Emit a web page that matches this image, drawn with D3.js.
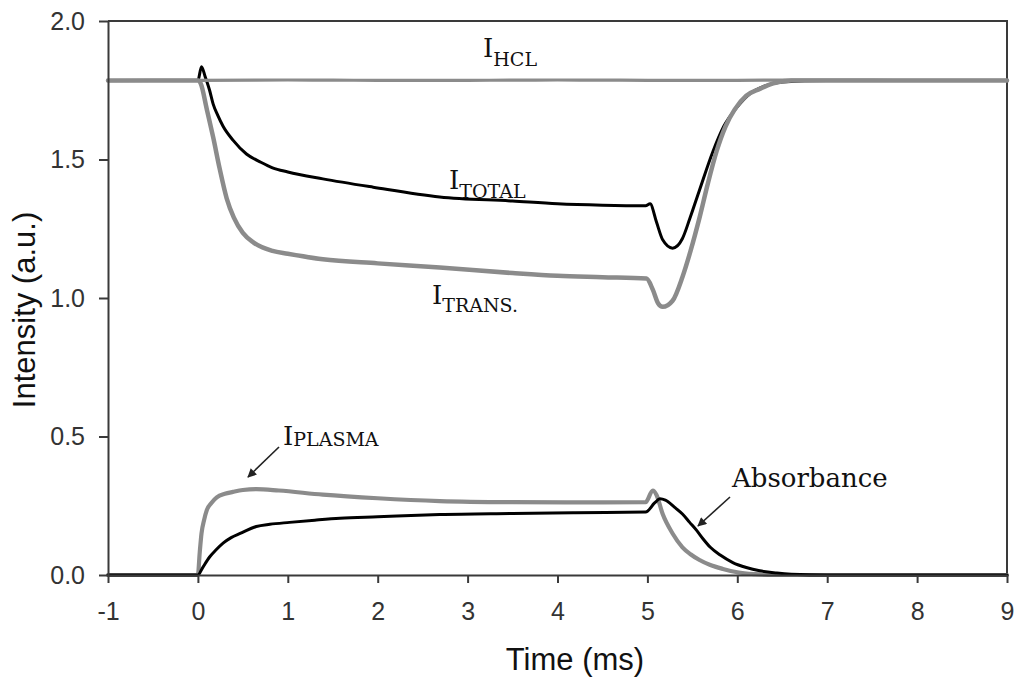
<!DOCTYPE html>
<html>
<head>
<meta charset="utf-8">
<script src="https://cdn.jsdelivr.net/npm/d3@7"></script>
<style>
  html, body { margin: 0; padding: 0; background: #fff; }
  svg { display: block; }
</style>
</head>
<body>
<svg id="chart" width="1018" height="682"></svg>
<script>
// Time axis (ms) and intensity axis (a.u.)
const xTicks = [-1, 0, 1, 2, 3, 4, 5, 6, 7, 8, 9];
const yTicks = [0.0, 0.5, 1.0, 1.5, 2.0];

// Hollow cathode lamp intensity
const hclTime   = [-1, 0, 1, 2, 3, 4, 5, 6, 7, 8, 9];
const hclValues = [1.785, 1.786, 1.787, 1.786, 1.786, 1.787, 1.786, 1.786, 1.787, 1.786, 1.786];

// Total intensity (black)
const totalTime   = [-1, 0, 0.04, 0.08, 0.13, 0.17, 0.22, 0.28, 0.39, 0.54, 0.7, 0.83, 1.0, 1.39, 1.95, 2.69, 3.5, 4.0, 4.5, 4.98, 5.03, 5.10, 5.17, 5.28, 5.39, 5.47, 5.58, 5.73, 5.85, 6.0, 6.15, 6.3, 6.5, 7, 8, 9];
const totalValues = [1.785, 1.785, 1.835, 1.80, 1.75, 1.70, 1.66, 1.62, 1.57, 1.52, 1.49, 1.47, 1.455, 1.43, 1.40, 1.365, 1.35, 1.34, 1.335, 1.333, 1.34, 1.275, 1.21, 1.18, 1.215, 1.285, 1.39, 1.53, 1.62, 1.69, 1.74, 1.765, 1.78, 1.785, 1.785, 1.785];

// Transmitted intensity (grey)
const transTime   = [-1, 0, 0.03, 0.1, 0.17, 0.24, 0.32, 0.4, 0.5, 0.62, 0.83, 1.0, 1.39, 2.0, 2.69, 3.5, 4.0, 4.5, 4.99, 5.06, 5.12, 5.17, 5.28, 5.39, 5.48, 5.58, 5.67, 5.77, 5.87, 5.97, 6.1, 6.25, 6.4, 6.6, 7, 8, 9];
const transValues = [1.785, 1.785, 1.775, 1.68, 1.58, 1.47, 1.36, 1.29, 1.235, 1.20, 1.17, 1.16, 1.14, 1.125, 1.11, 1.09, 1.08, 1.075, 1.07, 1.03, 0.98, 0.968, 0.99, 1.076, 1.17, 1.29, 1.41, 1.53, 1.62, 1.68, 1.73, 1.755, 1.775, 1.785, 1.785, 1.785, 1.785];

// Plasma emission intensity (grey)
const plasmaTime   = [-1, 0, 0.02, 0.04, 0.07, 0.1, 0.15, 0.21, 0.3, 0.39, 0.5, 0.65, 0.9, 1.39, 2.0, 2.69, 3.5, 4.5, 4.98, 5.06, 5.1, 5.17, 5.28, 5.39, 5.48, 5.58, 5.7, 5.84, 6.0, 6.2, 6.4, 7, 8, 9];
const plasmaValues = [0, 0, 0.08, 0.15, 0.20, 0.235, 0.26, 0.28, 0.293, 0.30, 0.307, 0.31, 0.305, 0.29, 0.277, 0.267, 0.263, 0.262, 0.263, 0.305, 0.29, 0.22, 0.15, 0.10, 0.075, 0.054, 0.036, 0.022, 0.01, 0.003, 0, 0, 0, 0];

// Absorbance (black)
const absTime   = [-1, 0, 0.05, 0.13, 0.2, 0.28, 0.37, 0.47, 0.65, 0.8, 1.02, 1.3, 1.58, 2.0, 2.69, 3.5, 4.2, 4.98, 5.08, 5.14, 5.2, 5.3, 5.39, 5.47, 5.55, 5.62, 5.7, 5.81, 5.95, 6.1, 6.25, 6.44, 6.6, 7, 8, 9];
const absValues = [0, 0, 0.025, 0.065, 0.09, 0.115, 0.135, 0.15, 0.175, 0.183, 0.19, 0.198, 0.205, 0.21, 0.218, 0.222, 0.225, 0.227, 0.26, 0.275, 0.27, 0.245, 0.22, 0.19, 0.16, 0.13, 0.10, 0.072, 0.045, 0.027, 0.015, 0.007, 0.003, 0, 0, 0];

const svg = d3.select("#chart");
const plot = { left: 108, right: 1007, top: 21, bottom: 575 };

const x = d3.scaleLinear().domain([-1, 9]).range([plot.left, plot.right]);
const y = d3.scaleLinear().domain([0, 2]).range([plot.bottom, plot.top]);

const grey = "#8b8b8b";
const axisColor = "#3a3a3a";

// Plot-area frame (top and right edges)
svg.append("path")
  .attr("d", `M${plot.left},${plot.top}H${plot.right}V${plot.bottom}`)
  .attr("fill", "none")
  .attr("stroke", axisColor)
  .attr("stroke-width", 2);

const line = d3.line()
  .x(d => x(d[0]))
  .y(d => y(d[1]))
  .curve(d3.curveMonotoneX);

const series = [
  { t: totalTime,  v: totalValues,  color: "#000", width: 3 },
  { t: hclTime,    v: hclValues,    color: grey,   width: 3.2 },
  { t: transTime,  v: transValues,  color: grey,   width: 4.5 },
  { t: plasmaTime, v: plasmaValues, color: grey,   width: 4.2 },
  { t: absTime,    v: absValues,    color: "#000", width: 3 }
];

svg.append("g").selectAll("path")
  .data(series)
  .join("path")
  .attr("d", s => line(d3.zip(s.t, s.v)))
  .attr("fill", "none")
  .attr("stroke", s => s.color)
  .attr("stroke-width", s => s.width)
  .attr("stroke-linejoin", "round")
  .attr("stroke-linecap", "round");

// Axes
const xAxis = svg.append("g")
  .attr("transform", `translate(0,${plot.bottom})`)
  .call(d3.axisBottom(x).tickValues(xTicks).tickFormat(d => String(d)).tickSize(8).tickPadding(19).tickSizeOuter(0));

const yAxis = svg.append("g")
  .attr("transform", `translate(${plot.left},0)`)
  .call(d3.axisLeft(y).tickValues(yTicks).tickFormat(d3.format(".1f")).tickSize(9).tickPadding(14).tickSizeOuter(0));

[xAxis, yAxis].forEach(g => {
  g.select(".domain").attr("stroke", axisColor).attr("stroke-width", 2);
  g.selectAll(".tick line").attr("stroke", axisColor).attr("stroke-width", 2);
  g.selectAll(".tick text")
    .attr("fill", "#333")
    .style("font-family", "'Liberation Sans', Arial, sans-serif")
    .style("font-size", "25px");
});

// Axis titles
svg.append("text")
  .attr("x", 575).attr("y", 670)
  .attr("text-anchor", "middle")
  .attr("fill", "#111")
  .style("font-family", "'Liberation Sans', Arial, sans-serif")
  .style("font-size", "31px")
  .text("Time (ms)");

svg.append("text")
  .attr("transform", "translate(35,310) rotate(-90)")
  .attr("text-anchor", "middle")
  .attr("fill", "#111")
  .style("font-family", "'Liberation Sans', Arial, sans-serif")
  .style("font-size", "31px")
  .text("Intensity (a.u.)");

// Curve labels: "I" with a small-caps style subscript
const serif = "'DejaVu Serif', serif";
const labels = [
  { x: 483, y: 57,  sub: "HCL",    dy: 9 },
  { x: 449, y: 189, sub: "TOTAL",  dy: 9 },
  { x: 432, y: 304, sub: "TRANS.", dy: 8 },
  { x: 283, y: 445, sub: "PLASMA", dy: 1 }
];

labels.forEach(l => {
  const t = svg.append("text")
    .attr("x", l.x).attr("y", l.y)
    .attr("fill", "#111")
    .style("font-family", serif)
    .style("font-size", "26px");
  t.append("tspan").text("I");
  t.append("tspan")
    .attr("dy", l.dy)
    .style("font-size", "19px")
    .text(l.sub);
});

svg.append("text")
  .attr("x", 732).attr("y", 487)
  .attr("fill", "#111")
  .style("font-family", serif)
  .style("font-size", "26px")
  .text("Absorbance");

// Pointer arrows
svg.append("defs").append("marker")
  .attr("id", "arrowHead")
  .attr("viewBox", "0 0 10 10")
  .attr("refX", 9).attr("refY", 5)
  .attr("markerWidth", 11).attr("markerHeight", 9)
  .attr("markerUnits", "userSpaceOnUse")
  .attr("orient", "auto")
  .append("path")
  .attr("d", "M0,0L10,5L0,10Z")
  .attr("fill", "#222");

const arrows = [
  { x1: 279, y1: 447, x2: 248, y2: 477 },
  { x1: 730, y1: 497, x2: 698, y2: 526 }
];

svg.append("g").selectAll("line")
  .data(arrows)
  .join("line")
  .attr("x1", d => d.x1).attr("y1", d => d.y1)
  .attr("x2", d => d.x2).attr("y2", d => d.y2)
  .attr("stroke", "#222")
  .attr("stroke-width", 1.6)
  .attr("marker-end", "url(#arrowHead)");
</script>
</body>
</html>
